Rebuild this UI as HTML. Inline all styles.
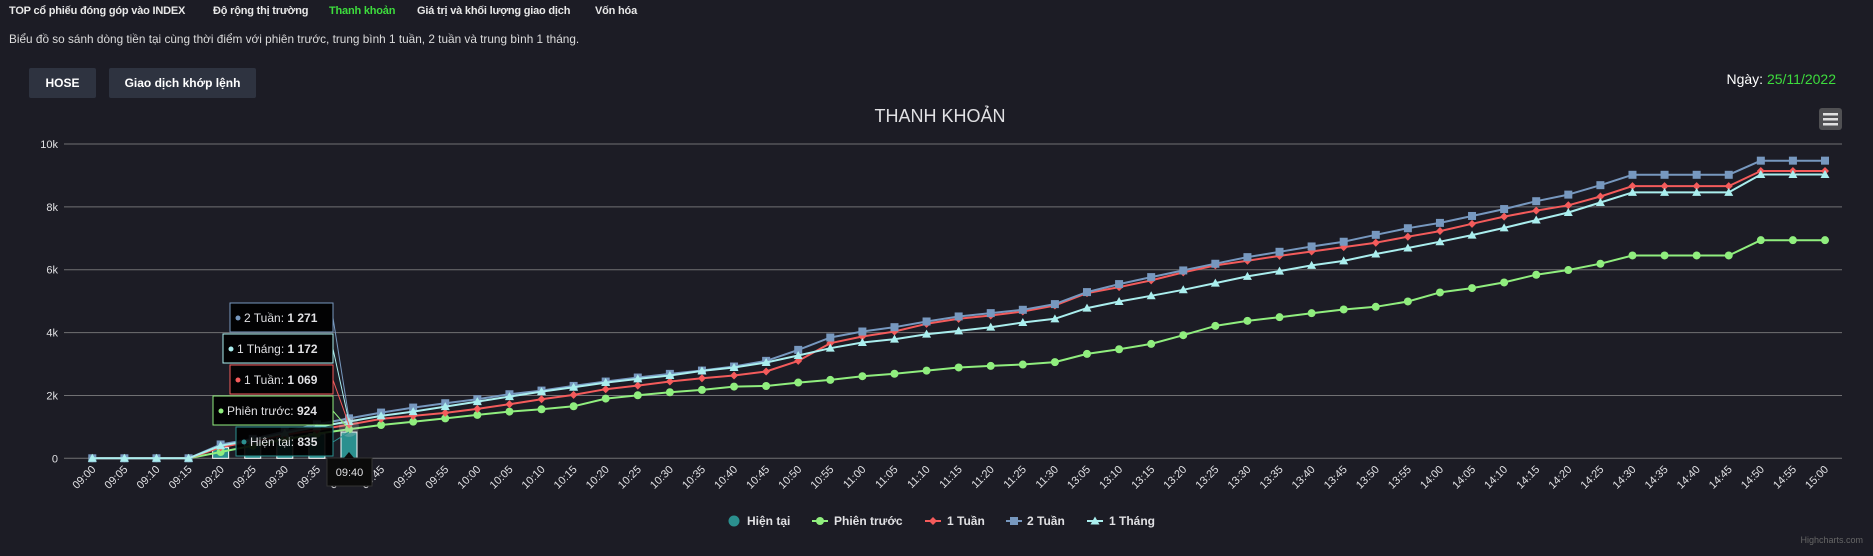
<!DOCTYPE html>
<html><head><meta charset="utf-8">
<style>
html,body{margin:0;padding:0;background:#1c1c25;width:1873px;height:556px;overflow:hidden;font-family:"Liberation Sans",sans-serif;}
.nav{position:absolute;top:5px;font-size:11px;letter-spacing:-0.2px;font-weight:bold;color:#e8e8e8;white-space:nowrap;}
.sub{position:absolute;left:9px;top:32px;font-size:11.8px;color:#dcdcdc;white-space:nowrap;}
.btn{position:absolute;top:68px;height:30px;line-height:30px;background:#2e3340;color:#fff;font-size:12px;font-weight:bold;text-align:center;border-radius:2px;}
</style></head>
<body>
<div class="nav" style="left:9px">TOP cổ phiếu đóng góp vào INDEX</div>
<div class="nav" style="left:213px">Độ rộng thị trường</div>
<div class="nav" style="left:329px;color:#3ddc3d">Thanh khoản</div>
<div class="nav" style="left:417px">Giá trị và khối lượng giao dịch</div>
<div class="nav" style="left:595px">Vốn hóa</div>
<div class="sub">Biểu đồ so sánh dòng tiền tại cùng thời điểm với phiên trước, trung bình 1 tuần, 2 tuần và trung bình 1 tháng.</div>
<div class="btn" style="left:29px;width:67px">HOSE</div>
<div class="btn" style="left:109px;width:147px">Giao dịch khớp lệnh</div>
<div style="position:absolute;right:37px;top:71px;font-size:14px;color:#fff;">Ngày: <span style="color:#3ddc3d">25/11/2022</span></div>

<svg id="chart" width="1873" height="556" style="position:absolute;left:0;top:0">
<text x="940" y="122" text-anchor="middle" font-size="18" fill="#e0e0e3" font-family="Liberation Sans, sans-serif">THANH KHOẢN</text>
<g>
<rect x="1819" y="108" width="23" height="22" rx="3" fill="#505053"/>
<rect x="1823" y="113" width="15" height="2.5" fill="#e0e0e0"/>
<rect x="1823" y="118" width="15" height="2.5" fill="#e0e0e0"/>
<rect x="1823" y="123" width="15" height="2.5" fill="#e0e0e0"/>
</g>
<g id="grid"></g><g id="bars"></g><g id="lines"></g><g id="xlabels"></g><g id="tips"></g>
<g id="legend"></g>
<text x="1863" y="543" text-anchor="end" font-size="9" fill="#666" font-family="Liberation Sans, sans-serif">Highcharts.com</text>
</svg>

<script>
const categories=["09:00","09:05","09:10","09:15","09:20","09:25","09:30","09:35","09:40","09:45","09:50","09:55","10:00","10:05","10:10","10:15","10:20","10:25","10:30","10:35","10:40","10:45","10:50","10:55","11:00","11:05","11:10","11:15","11:20","11:25","11:30","13:05","13:10","13:15","13:20","13:25","13:30","13:35","13:40","13:45","13:50","13:55","14:00","14:05","14:10","14:15","14:20","14:25","14:30","14:35","14:40","14:45","14:50","14:55","15:00"];
const hienTai=[0,0,0,0,340,490,700,780,835];
const phienTruoc=[0,0,0,0,200,400,600,780,924,1060,1166,1270,1380,1486,1560,1656,1900,2006,2102,2176,2282,2300,2410,2494,2612,2690,2790,2890,2940,2983,3060,3322,3470,3640,3917,4213,4373,4490,4618,4735,4820,4990,5277,5415,5595,5840,5990,6190,6454,6454,6454,6454,6940,6940,6940];
const motTuan=[0,0,0,0,350,550,750,900,1069,1253,1348,1444,1571,1720,1879,2017,2197,2314,2442,2548,2633,2761,3100,3663,3874,4034,4278,4438,4544,4672,4863,5256,5447,5660,5915,6138,6286,6440,6580,6720,6860,7050,7230,7460,7690,7880,8050,8330,8660,8660,8660,8660,9140,9140,9140];
const haiTuan=[0,0,0,0,440,620,850,1080,1271,1455,1614,1752,1879,2038,2155,2303,2442,2570,2686,2792,2920,3100,3450,3843,4034,4172,4353,4513,4619,4725,4906,5288,5543,5765,5977,6190,6400,6570,6740,6890,7110,7320,7490,7710,7930,8180,8390,8690,9020,9020,9020,9020,9470,9470,9470];
const motThang=[0,0,0,0,400,580,800,1000,1172,1348,1486,1645,1805,1964,2123,2261,2410,2527,2633,2782,2888,3047,3270,3504,3683,3790,3950,4055,4172,4321,4438,4778,4990,5171,5362,5575,5787,5957,6138,6280,6500,6690,6890,7100,7330,7580,7820,8140,8460,8460,8460,8460,9030,9030,9030];
const yTicks=[0,2000,4000,6000,8000,10000];
const yTickLabels=["0","2k","4k","6k","8k","10k"];

const NS="http://www.w3.org/2000/svg";
function x(i){return 92.3+i*(1825-92.3)/(categories.length-1);}
function y(v){return 458.3-v*(458.3-144)/10000;}
function mk(tag,attrs,parent){const e=document.createElementNS(NS,tag);for(const k in attrs)e.setAttribute(k,attrs[k]);parent.appendChild(e);return e;}
const FONT="Liberation Sans, sans-serif";

const grid=document.getElementById('grid');
yTicks.forEach((t,k)=>{
  const l=mk('line',{x1:64,x2:1842,y1:y(t),y2:y(t),stroke:'#707073','stroke-width':1},grid);
  
  
  const tx=mk('text',{x:58,y:y(t)+4,'text-anchor':'end','font-size':11,fill:'#e0e0e3','font-family':FONT},grid);
  tx.textContent=yTickLabels[k];
  
  
});

const xl=document.getElementById('xlabels');
categories.forEach((c,i)=>{
  const t=mk('text',{x:0,y:0,'text-anchor':'end','font-size':11,fill:'#e0e0e3','font-family':FONT,transform:`translate(${x(i)+4},${470}) rotate(-45)`},xl);
  t.textContent=c;
  
  
});

const bars=document.getElementById('bars');
hienTai.forEach((v,i)=>{
  const b=mk('rect',{x:x(i)-8,y:y(v),width:16,height:y(0)-y(v),fill:'#2b908f',stroke:'#fff','stroke-width':1},bars);
  
  
});

function marker(type,cx,cy,color,g){
  let e;
  if(type==='circle')e=mk('circle',{cx,cy,r:4,fill:color},g);
  else if(type==='diamond')e=mk('path',{d:`M${cx} ${cy-4}L${cx+4} ${cy}L${cx} ${cy+4}L${cx-4} ${cy}Z`,fill:color},g);
  else if(type==='square')e=mk('rect',{x:cx-4,y:cy-4,width:8,height:8,fill:color},g);
  else e=mk('path',{d:`M${cx} ${cy-4.5}L${cx+4.5} ${cy+3.5}L${cx-4.5} ${cy+3.5}Z`,fill:color},g);
  return e;
}
const series=[
  {name:'phien-truoc',data:phienTruoc,color:'#90ee7e',m:'circle'},
  {name:'1-tuan',data:motTuan,color:'#f45b5b',m:'diamond'},
  {name:'2-tuan',data:haiTuan,color:'#7798BF',m:'square'},
  {name:'1-thang',data:motThang,color:'#aaeeee',m:'triangle'}
];
const lines=document.getElementById('lines');
series.forEach(s=>{
  const g=mk('g',{},lines);
  
  
  const d=s.data.map((v,i)=>(i?'L':'M')+x(i).toFixed(1)+' '+y(v).toFixed(1)).join('');
  const p=mk('path',{d,fill:'none',stroke:s.color,'stroke-width':2,'stroke-linejoin':'round'},g);
  
  
  s.data.forEach((v,i)=>{
    const m=marker(s.m,x(i),y(v),s.color,g);
    
    
  });
});

const tips=document.getElementById('tips');
const ti=8;
const tipDefs=[
  {label:'2 Tuần: ',val:'1 271',color:'#7798BF',x0:230,y0:303,v:haiTuan[ti]},
  {label:'1 Tháng: ',val:'1 172',color:'#aaeeee',x0:223,y0:334,v:motThang[ti]},
  {label:'1 Tuần: ',val:'1 069',color:'#f45b5b',x0:230,y0:365,v:motTuan[ti]},
  {label:'Phiên trước: ',val:'924',color:'#90ee7e',x0:213,y0:396,v:phienTruoc[ti]},
  {label:'Hiện tại: ',val:'835',color:'#2b908f',x0:236,y0:427,v:hienTai[ti]}
];
mk('circle',{cx:x(ti),cy:y(1000),r:10,fill:'rgba(200,200,200,0.25)'},tips);
tipDefs.forEach(t=>{
  const g=mk('g',{},tips);
  
  
  mk('line',{x1:333,y1:t.y0+15,x2:x(ti),y2:y(t.v),stroke:t.color,'stroke-width':1},g);
  mk('rect',{x:t.x0,y:t.y0,width:333-t.x0,height:29,fill:'rgba(0,0,0,0.9)',stroke:t.color,'stroke-width':1},g);
  mk('circle',{cx:t.x0+8,cy:t.y0+15,r:2.5,fill:t.color},g);
  const tx=mk('text',{x:t.x0+14,y:t.y0+19,'font-size':12,fill:'#e0e0e3','font-family':FONT},g);
  tx.textContent=t.label;
  const b=mk('tspan',{'font-weight':'bold'},tx);b.textContent=t.val;
});
const xg=mk('g',{},tips);


mk('rect',{x:327,y:458,width:45,height:28,fill:'#0b0b0b',stroke:'#333','stroke-width':1},xg);
mk('path',{d:`M${x(ti)-5} 458L${x(ti)} 452L${x(ti)+5} 458Z`,fill:'#0b0b0b'},xg);
const xt=mk('text',{x:349.5,y:476,'text-anchor':'middle','font-size':11,fill:'#e0e0e3','font-family':FONT},xg);
xt.textContent='09:40';

const lg=document.getElementById('legend');
const legendItems=[
  {t:'Hiện tại',c:'#2b908f',m:'bar',sx:734,tx:747},
  {t:'Phiên trước',c:'#90ee7e',m:'circle',sx:820,tx:834},
  {t:'1 Tuần',c:'#f45b5b',m:'diamond',sx:933,tx:947},
  {t:'2 Tuần',c:'#7798BF',m:'square',sx:1014,tx:1027},
  {t:'1 Tháng',c:'#aaeeee',m:'triangle',sx:1095,tx:1109}
];
legendItems.forEach(it=>{
  const g=mk('g',{},lg);
  
  
  if(it.m==='bar'){mk('circle',{cx:it.sx,cy:521,r:5.5,fill:it.c},g);}
  else{mk('line',{x1:it.sx-8,x2:it.sx+8,y1:521,y2:521,stroke:it.c,'stroke-width':2},g);marker(it.m,it.sx,521,it.c,g);}
  const t=mk('text',{x:it.tx,y:525,'font-size':12,'font-weight':'bold',fill:'#e0e0e3','font-family':FONT},g);
  t.textContent=it.t;
});
</script>
</body></html>
